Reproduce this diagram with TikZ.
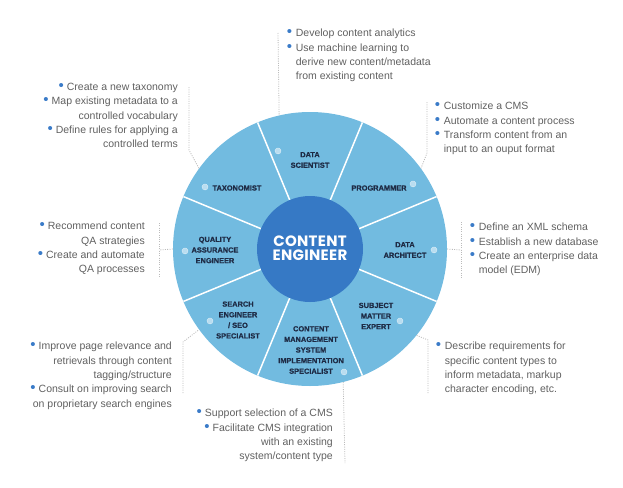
\documentclass[tikz,border=0pt]{standalone}
\usepackage{fontspec}
\setmainfont{Liberation Sans}
\newfontfamily\hubfont[LetterSpace=2]{Poppins}
\newfontfamily\segfont[FakeBold=0.8]{Liberation Sans Bold}
\definecolor{ringc}{HTML}{72BBE0}
\definecolor{hubc}{HTML}{3679C5}
\definecolor{labc}{HTML}{1E2B45}
\definecolor{txtc}{HTML}{606060}
\definecolor{bulc}{HTML}{3A7BC8}
\definecolor{connc}{HTML}{BBBBBB}
\definecolor{iconc}{HTML}{B9DDF0}
\newcommand\bul{\makebox[9pt][l]{\color{bulc}\fontsize{15}{13}\selectfont\textbullet}}
\newcommand\ind{\hspace*{9pt}}
\newcommand\rbul{{\color{bulc}\fontsize{15}{13}\selectfont\textbullet}\hspace{3pt}}
\tikzset{
  desc/.style={font=\fontsize{10.5}{14.3}\selectfont, text=txtc, inner sep=0pt},
  descL/.style={desc, align=left, anchor=north west},
  descR/.style={desc, align=right, anchor=north east},
  seglab/.style={font=\segfont\fontsize{7.4}{10.6}\selectfont, text=labc, align=center, inner sep=0pt},
  connector/.style={draw=connc, line width=0.8pt, dash pattern=on 1pt off 1.3pt},
  ico/.style={circle, fill=iconc, minimum size=6pt, inner sep=0pt, draw=white!85!ringc, line width=0.5pt, dash pattern=on 0.8pt off 0.6pt},
  divider/.style={draw=white, line width=1.5pt}
}
\begin{document}
\begin{tikzpicture}[x=1pt,y=-1pt]
\useasboundingbox (0,0) rectangle (623,487);
% wheel
\node[circle, fill=ringc, minimum size=274pt, inner sep=0pt] (outer) at (310,249) {};
\foreach \a in {22.5,67.5,...,337.5}
  \draw[divider] ([shift={(\a:53)}]outer.center) -- ([shift={(\a:137)}]outer.center);
\node[circle, fill=hubc, minimum size=106pt, inner sep=0pt] (hub) at (310,249) {};
\node[font=\hubfont\bfseries\fontsize{15}{14.5}\selectfont, text=white, align=center, inner sep=0pt] (hubtxt) at (310,248) {CONTENT\\ENGINEER};

% segment labels
\node[seglab] (ds) at (310,160) {DATA\\SCIENTIST};
\node[seglab] (prog) at (379,188) {PROGRAMMER};
\node[seglab] (tax) at (237,188) {TAXONOMIST};
\node[seglab] (qa) at (215,250) {QUALITY\\ASSURANCE\\ENGINEER};
\node[seglab] (da) at (405,250) {DATA\\ARCHITECT};
\node[seglab] (seo) at (238,320) {SEARCH\\ENGINEER\\/ SEO\\SPECIALIST};
\node[seglab] (sme) at (376,316) {SUBJECT\\MATTER\\EXPERT};
\node[seglab] (cms) at (311,350) {CONTENT\\MANAGEMENT\\SYSTEM\\IMPLEMENTATION\\SPECIALIST};

% icons
\node[ico] (i-ds) at (278,151) {};
\node[ico] (i-prog) at (413,184) {};
\node[ico] (i-tax) at (205,187) {};
\node[ico] (i-qa) at (185,251) {};
\node[ico] (i-da) at (434,250) {};
\node[ico] (i-seo) at (210,321) {};
\node[ico] (i-sme) at (400,321) {};
\node[ico] (i-cms) at (344,372) {};

% connectors
\coordinate (c-ds) at (278,33);
\draw[connector] (c-ds) -- (outer.103.5);
\coordinate (c-tax1) at (189,87);
\coordinate (c-tax2) at (189,150);
\draw[connector] (c-tax1) -- (c-tax2) -- (outer.144.8);
\coordinate (c-prog1) at (427,102);
\coordinate (c-prog2) at (427,153);
\draw[connector] (c-prog1) -- (c-prog2) -- (outer.36.7);
\coordinate (c-da1) at (461,222);
\coordinate (c-da2) at (461,278);
\coordinate (c-da3) at (461,250);
\draw[connector] (c-da1) -- (c-da2);
\draw[connector] (outer.east) -- (c-da3);
\coordinate (c-qa1) at (159,223);
\coordinate (c-qa2) at (159,278);
\coordinate (c-qa3) at (159,250);
\draw[connector] (c-qa1) -- (c-qa2);
\draw[connector] (outer.west) -- (c-qa3);
\coordinate (c-seo1) at (183,393);
\coordinate (c-seo2) at (183,342);
\draw[connector] (c-seo1) -- (c-seo2) -- (outer.216.5);
\coordinate (c-cms) at (345,463);
\draw[connector] (outer.284.9) -- (c-cms);
\coordinate (c-sme1) at (428,340);
\coordinate (c-sme2) at (428,393);
\draw[connector] (outer.321.1) -- (c-sme1) -- (c-sme2);

% description blocks
\node[descL] (t-ds) at (286.7,29) {\bul Develop content analytics\\\bul Use machine learning to\\\ind derive new content/metadata\\\ind from existing content};
\node[descL] (t-prog) at (434.7,102) {\bul Customize a CMS\\\bul Automate a content process\\\bul Transform content from an\\\ind input to an ouput format};
\node[descL] (t-da) at (469.7,223) {\bul Define an XML schema\\\bul Establish a new database\\\bul Create an enterprise data\\\ind model (EDM)};
\node[descL] (t-sme) at (435.7,342) {\bul Describe requirements for\\\ind specific content types to\\\ind inform metadata, markup\\\ind character encoding, etc.};
\node[descR] (t-tax) at (178,83) {\rbul Create a new taxonomy\\\rbul Map existing metadata to a\\controlled vocabulary\\\rbul Define rules for applying a\\controlled terms};
\node[descR] (t-qa) at (145,222) {\rbul Recommend content\\QA strategies\\\rbul Create and automate\\QA processes};
\node[descR] (t-seo) at (172,342) {\rbul Improve page relevance and\\retrievals through content\\tagging/structure\\\rbul Consult on improving search\\on proprietary search engines};
\node[descR] (t-cms) at (333,409) {\rbul Support selection of a CMS\\\rbul Facilitate CMS integration\\with an existing\\system/content type};
\end{tikzpicture}
\end{document}
